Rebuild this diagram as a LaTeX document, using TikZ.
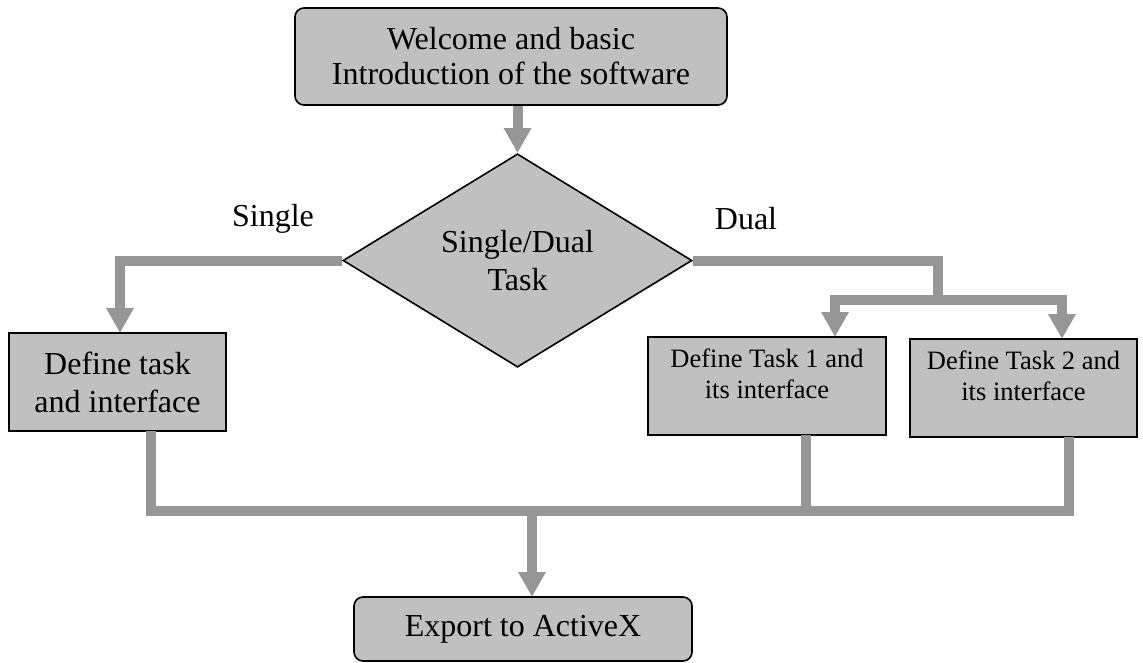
\documentclass[tikz,border=0pt]{standalone}
\usepackage{fontspec}
\setmainfont{Liberation Serif}
\usetikzlibrary{shapes.geometric,arrows.meta}
\definecolor{boxfill}{RGB}{192,192,192}
\definecolor{flowgray}{RGB}{150,150,150}
\tikzset{
  box/.style={draw=black, line width=1.6pt, fill=boxfill, align=center, inner sep=0pt,
    font=\fontsize{32}{38}\selectfont},
  roundbox/.style={box, rounded corners=9pt},
  smallbox/.style={box, font=\fontsize{26.5}{31}\selectfont},
  decision/.style={diamond, draw=black, line width=1.6pt, fill=boxfill, align=center, inner sep=0pt,
    font=\fontsize{32}{38}\selectfont},
  flow/.style={draw=flowgray, line width=10pt},
  flowarrow/.style={flow, -{Triangle[width=26pt,length=25pt]}},
  lbl/.style={font=\fontsize{32}{38}\selectfont, inner sep=0pt}
}
\begin{document}
\begin{tikzpicture}[x=1pt,y=-1pt]
\useasboundingbox (0,0) rectangle (1143,663);
% nodes
\node[roundbox, minimum width=432pt, minimum height=97pt, font=\fontsize{32}{35}\selectfont] (top) at (511,56.5) {Welcome and basic\\Introduction of the software};
\node[decision, minimum width=349pt, minimum height=171pt] (dia) at (517.5,260.5) {Single/Dual\\Task};
\node[box, minimum width=217pt, minimum height=98pt] (t0) at (117.5,382) {Define task\\and interface};
\node[smallbox, minimum width=238pt, minimum height=98pt] (t1) at (767,386) {Define Task 1 and\\its interface\\[-6pt]\mbox{}};
\node[smallbox, minimum width=227pt, minimum height=98pt] (t2) at (1023.5,388) {Define Task 2 and\\its interface\\[-6pt]\mbox{}};
\node[roundbox, minimum width=338pt, minimum height=64pt] (exp) at (523,629) {Export to ActiveX};
\node[lbl] (ls) at (273,219) {Single};
\node[lbl] (ld) at (746,219) {Dual};
% helper coordinates
\coordinate (a0) at (120,333);
\coordinate (j) at (938,300);
\coordinate (a1) at (835,337);
\coordinate (a2) at (1062,339);
\coordinate (b0) at (151,431);
\coordinate (b1) at (806,435);
\coordinate (b2) at (1069,437);
\coordinate (m) at (532,511);
\coordinate (e) at (532,597);
% connectors
\draw[flowarrow] (dia.north |- top.south) -- (dia.north);
\draw[flowarrow] (dia.west) -| (a0);
\draw[flow] (dia.east) -| (j);
\draw[flowarrow] (j) -| (a1);
\draw[flowarrow] (j) -| (a2);
\draw[flow] (b0) -- (b0 |- m) -- (b2 |- m) -- (b2);
\draw[flow] (b1) -- (b1 |- m);
\draw[flowarrow] (m) -- (e);
\end{tikzpicture}
\end{document}
